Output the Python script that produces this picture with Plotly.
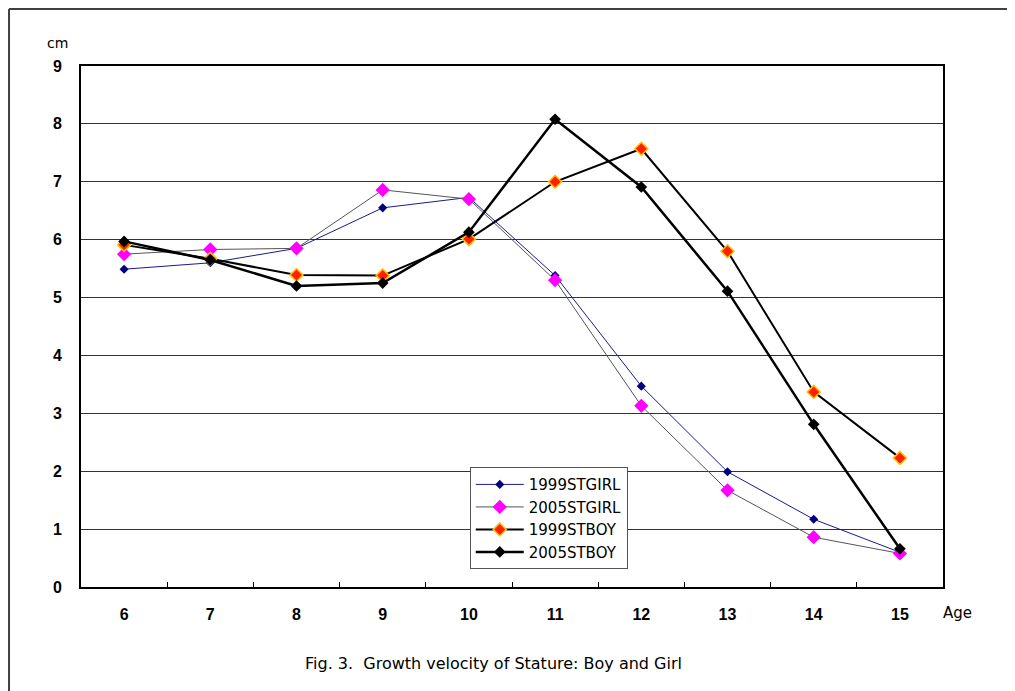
import plotly.graph_objects as go

# growth velocity of stature (cm/year) by age
ages = ["6", "7", "8", "9", "10", "11", "12", "13", "14", "15"]
girl_1999 = [5.49, 5.60, 5.85, 6.55, 6.73, 5.38, 3.47, 1.99, 1.17, 0.60]
girl_2005 = [5.75, 5.83, 5.85, 6.86, 6.70, 5.30, 3.13, 1.67, 0.86, 0.58]
boy_1999 = [5.91, 5.67, 5.39, 5.38, 6.01, 7.00, 7.57, 5.80, 3.37, 2.23]
boy_2005 = [5.97, 5.65, 5.20, 5.25, 6.13, 8.08, 6.91, 5.11, 2.81, 0.66]

FONT = "DejaVu Sans, Liberation Sans, sans-serif"
TICKFONT = dict(family="Liberation Sans, Arial, sans-serif", size=16,
                color="black", weight="bold")

fig = go.Figure()
fig.add_trace(go.Scatter(
    x=ages, y=girl_1999, name="1999STGIRL", mode="lines+markers",
    line=dict(color="#1a1a8c", width=1),
    marker=dict(symbol="diamond", size=7, color="#000080")))
fig.add_trace(go.Scatter(
    x=ages, y=girl_2005, name="2005STGIRL", mode="lines+markers",
    line=dict(color="#555555", width=1),
    marker=dict(symbol="diamond", size=11, color="#ff00ff")))
fig.add_trace(go.Scatter(
    x=ages, y=boy_1999, name="1999STBOY", mode="lines+markers",
    line=dict(color="black", width=2),
    marker=dict(symbol="diamond", size=10, color="#ff2000",
                line=dict(color="#ffc000", width=1.5))))
fig.add_trace(go.Scatter(
    x=ages, y=boy_2005, name="2005STBOY", mode="lines+markers",
    line=dict(color="black", width=2.5),
    marker=dict(symbol="diamond", size=9, color="black")))

frame = dict(color="#404040", width=2)

# plot area 862 x 521 px; the page body adds an 8px offset
fig.update_layout(
    width=1007, height=683,
    margin=dict(l=73, r=72, t=58, b=104),
    paper_bgcolor="white", plot_bgcolor="white",
    font=dict(family=FONT, size=15, color="black"),
    showlegend=True,
    legend=dict(x=0.451, y=0.230, xanchor="left", yanchor="top",
                bgcolor="white", bordercolor="#555555", borderwidth=1,
                font=dict(size=15), itemwidth=48, tracegroupgap=0),
    shapes=[
        dict(type="line", xref="paper", yref="paper",
             x0=-0.0835, x1=-0.0835, y0=-0.4, y1=1.1094, line=frame),
        dict(type="line", xref="paper", yref="paper",
             x0=-0.0835, x1=1.4, y0=1.1094, y1=1.1094, line=frame),
    ],
    annotations=[
        dict(text="cm", xref="paper", yref="paper", x=-0.027, y=1.044,
             xanchor="center", yanchor="middle",
             showarrow=False, font=dict(size=14)),
        dict(text="Age", xref="paper", yref="paper", x=1.017, y=-0.05,
             xanchor="center", yanchor="middle",
             showarrow=False, font=dict(size=15)),
        dict(text="Fig. 3.  Growth velocity of Stature: Boy and Girl",
             xref="paper", yref="paper", x=0.479, y=-0.146,
             xanchor="center", yanchor="middle",
             showarrow=False, font=dict(size=16)),
    ],
)
fig.update_xaxes(
    type="category", range=[-0.5, 9.5], tickson="boundaries",
    ticks="inside", ticklen=5, tickcolor="black", tickwidth=1,
    showgrid=False, showline=True, linecolor="black", linewidth=2,
    mirror=True, ticklabelstandoff=12, tickfont=TICKFONT)
fig.update_yaxes(
    range=[0, 9], dtick=1, showgrid=True, gridcolor="#333333", gridwidth=1,
    showline=True, linecolor="black", linewidth=2, mirror=True,
    zeroline=False, ticks="", ticklabelstandoff=14, tickfont=TICKFONT)

fig.write_html("out.html")
